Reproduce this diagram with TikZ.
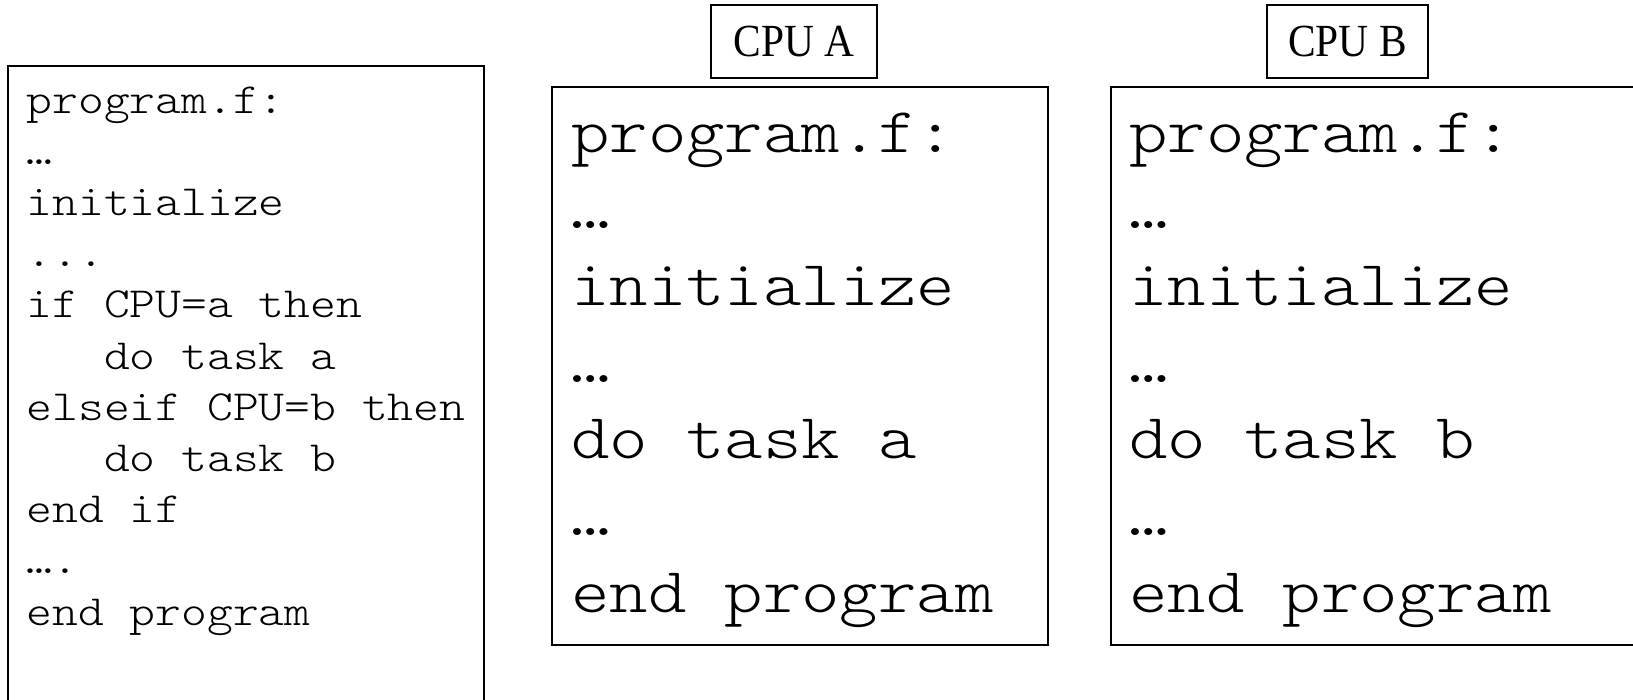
\documentclass[tikz,border=0pt]{standalone}
\usepackage{fontspec}
\setmainfont{Liberation Serif}
\newfontfamily\codefont[FakeStretch=1.143]{lmmonolt10-regular.otf}
\newcommand\ind{\hphantom{ddd}}
\newcommand\cpuname[1]{\scalebox{0.9}[1]{#1}}
\begin{document}
\begin{tikzpicture}[x=1pt, y=-1pt,
  frame/.style={draw, line width=2pt, rectangle, inner sep=0pt, anchor=north west},
  cpulabel/.style={draw, line width=2pt, rectangle, inner sep=0pt,
    minimum height=73pt, font=\fontsize{46}{50}\selectfont},
  smallcode/.style={anchor=base west, inner sep=0pt, font=\codefont\fontsize{43}{51}\selectfont},
  bigcode/.style={anchor=base west, inner sep=0pt, font=\codefont\fontsize{64}{77}\selectfont}]
\useasboundingbox (0,0) rectangle (1633,699);

% source listing (runs past the lower edge)
\node[frame, minimum width=476pt, minimum height=700pt] (src) at (7,65) {};
\node[smallcode] (src1)  at (26.5, 113.0) {program.f:};
\node[smallcode] (src2)  at (26.5, 164.2) {…};
\node[smallcode] (src3)  at (26.5, 215.4) {initialize};
\node[smallcode] (src4)  at (26.5, 266.6) {...};
\node[smallcode] (src5)  at (26.5, 317.8) {if CPU=a then};
\node[smallcode] (src6)  at (26.5, 369.0) {\ind do task a};
\node[smallcode] (src7)  at (26.5, 420.2) {elseif CPU=b then};
\node[smallcode] (src8)  at (26.5, 471.4) {\ind do task b};
\node[smallcode] (src9)  at (26.5, 522.6) {end if};
\node[smallcode] (src10) at (26.5, 573.8) {….};
\node[smallcode] (src11) at (26.5, 625.0) {end program};

% what CPU A runs
\node[cpulabel, minimum width=166pt] (labela) at (794, 41.5) {\cpuname{CPU A}};
\node[frame, minimum width=496pt, minimum height=558pt] (cpua) at (551,86) {};
\node[bigcode] (a1) at (571, 152.0) {program.f:};
\node[bigcode] (a2) at (571, 228.7) {…};
\node[bigcode] (a3) at (571, 305.4) {initialize};
\node[bigcode] (a4) at (571, 382.1) {…};
\node[bigcode] (a5) at (571, 458.8) {do task a};
\node[bigcode] (a6) at (571, 535.5) {…};
\node[bigcode] (a7) at (571, 612.2) {end program};

% what CPU B runs (box runs past the right edge)
\node[cpulabel, minimum width=161pt] (labelb) at (1347.5, 41.5) {\cpuname{CPU B}};
\node[frame, minimum width=560pt, minimum height=558pt] (cpub) at (1110,86) {};
\node[bigcode] (b1) at (1129, 152.0) {program.f:};
\node[bigcode] (b2) at (1129, 228.7) {…};
\node[bigcode] (b3) at (1129, 305.4) {initialize};
\node[bigcode] (b4) at (1129, 382.1) {…};
\node[bigcode] (b5) at (1129, 458.8) {do task b};
\node[bigcode] (b6) at (1129, 535.5) {…};
\node[bigcode] (b7) at (1129, 612.2) {end program};
\end{tikzpicture}
\end{document}
